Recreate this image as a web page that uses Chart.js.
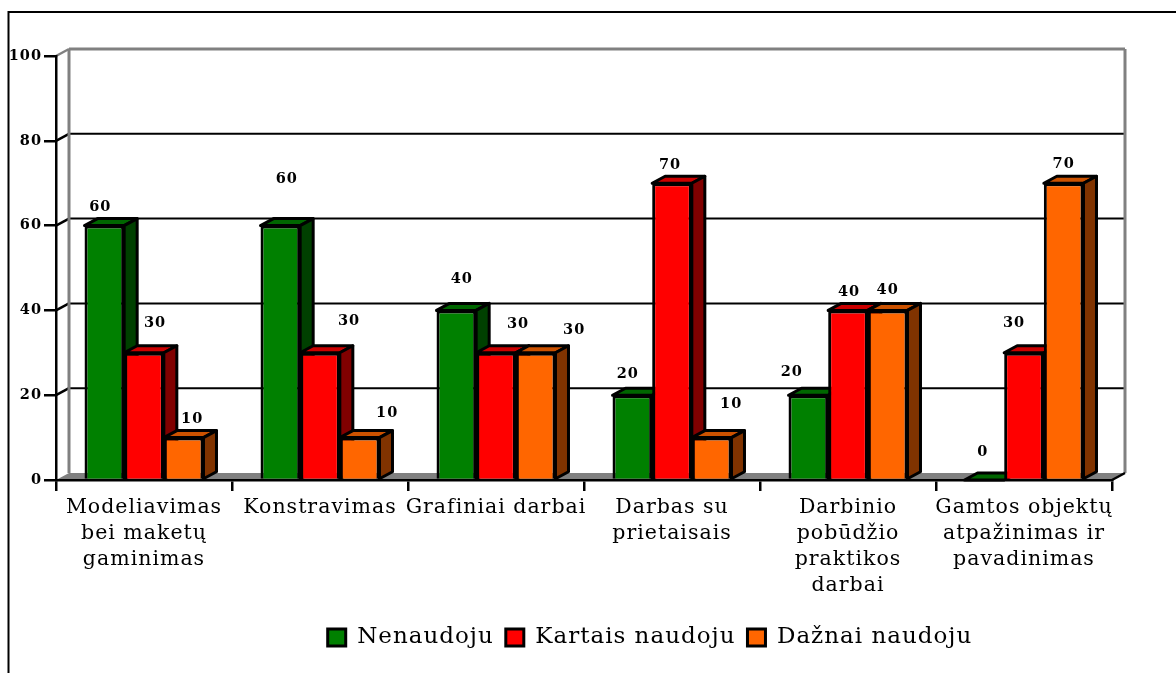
<!DOCTYPE html>
<html>
<head>
<meta charset="utf-8">
<style>html,body{margin:0;padding:0;background:#fff}canvas{display:block}</style>
<script src="https://cdn.jsdelivr.net/npm/chart.js@4"></script>
</head>
<body>
<canvas id="c" width="1176" height="673"></canvas>
<script>
const categories = [
  ['Modeliavimas','bei maketų','gaminimas'],
  'Konstravimas',
  'Grafiniai darbai',
  ['Darbas su','prietaisais'],
  ['Darbinio','pobūdžio','praktikos','darbai'],
  ['Gamtos objektų','atpažinimas ir','pavadinimas']
];
const seriesNames = ['Nenaudoju','Kartais naudoju','Dažnai naudoju'];
const nenaudoju = [60,60,40,20,20,0];
const kartais   = [30,30,30,70,40,30];
const daznai    = [10,10,30,10,40,70];
const yTicks = [0,20,40,60,80,100];
const frontColors = ['#008000','#ff0000','#ff6600'];
const topColors   = ['#006600','#cc0000','#cc5200'];
const sideColors  = ['#004000','#800000','#803300'];
// hand placement of each value label relative to its bar top (label positions differ per bar in the source)
const labelShiftX = [[-4,6.5,5.5,-4.5,-16.5,-1.5],[11,29,22,-2,1,-10],[8.5,27.5,38.5,19.5,0,0]];
const labelShiftY = [[-18.6,-46.6,-31,-21,-23,-28],[-30,-32,-29,-18,-18,-30],[-18.6,-24.6,-23,-33.6,-20,-19]];
const DX = 13, DY = -7;
const SERIF = '"DejaVu Serif"';
const SPACING = '1px';

const depthPlugin = {
  id:'depth',
  beforeUpdate(chart){ chart.ctx.letterSpacing = SPACING; },
  afterLayout(chart){ const l = chart.legend; if(l){ l.left += 94; l.right += 94; } },
  beforeDraw(chart){
    const ctx = chart.ctx, a = chart.chartArea, y = chart.scales.y;
    ctx.letterSpacing = SPACING;
    ctx.save();
    // page frame
    ctx.strokeStyle = '#000'; ctx.lineWidth = 2;
    ctx.beginPath(); ctx.moveTo(1176,12); ctx.lineTo(8.5,12); ctx.lineTo(8.5,673); ctx.stroke();
    // floor
    ctx.fillStyle = '#808080';
    ctx.beginPath();
    ctx.moveTo(a.left,a.bottom); ctx.lineTo(a.left+DX,a.bottom+DY);
    ctx.lineTo(a.right+DX,a.bottom+DY); ctx.lineTo(a.right,a.bottom); ctx.closePath(); ctx.fill();
    // grid on back wall
    yTicks.forEach(v=>{
      if(v===0) return;
      const p = y.getPixelForValue(v);
      const col = v===100 ? '#808080' : '#000';
      ctx.strokeStyle = col; ctx.lineWidth = v===100 ? 3 : 2;
      ctx.beginPath(); ctx.moveTo(a.left+DX,p+DY); ctx.lineTo(a.right+DX,p+DY); ctx.stroke();
      ctx.lineWidth = 2.5;
      ctx.strokeStyle = v===100 ? '#808080' : '#000';
      ctx.beginPath(); ctx.moveTo(a.left,p); ctx.lineTo(a.left+DX,p+DY); ctx.stroke();
    });
    // walls
    ctx.strokeStyle = '#808080'; ctx.lineWidth = 3;
    const t = y.getPixelForValue(100)+DY, b = a.bottom+DY;
    ctx.beginPath(); ctx.moveTo(a.left+DX,t); ctx.lineTo(a.left+DX,b); ctx.stroke();
    ctx.beginPath(); ctx.moveTo(a.right+DX,t); ctx.lineTo(a.right+DX,b); ctx.stroke();
    ctx.strokeStyle = '#000'; ctx.lineWidth = 2.5;
    ctx.beginPath(); ctx.moveTo(a.right,a.bottom); ctx.lineTo(a.right+DX,a.bottom+DY); ctx.stroke();
    ctx.restore();
  },
  beforeDatasetsDraw(chart){
    const ctx = chart.ctx;
    // series paint left to right so each bar's front covers its left neighbour's side
    chart.data.datasets.forEach((ds,i)=>{
      const meta = chart.getDatasetMeta(i);
      ctx.save();
      ctx.strokeStyle = '#000'; ctx.lineWidth = 3; ctx.lineJoin = 'round';
      meta.data.forEach(bar=>{
        const {x,y,base,width} = bar.getProps(['x','y','base','width'],true);
        const l = x-width/2, r = x+width/2;
        ctx.fillStyle = topColors[i];
        ctx.beginPath(); ctx.moveTo(l,y); ctx.lineTo(l+DX,y+DY); ctx.lineTo(r+DX,y+DY); ctx.lineTo(r,y); ctx.closePath(); ctx.fill(); ctx.stroke();
        if(base-y > 0.5){
          ctx.fillStyle = sideColors[i];
          ctx.beginPath(); ctx.moveTo(r,y); ctx.lineTo(r+DX,y+DY); ctx.lineTo(r+DX,base+DY); ctx.lineTo(r,base); ctx.closePath(); ctx.fill(); ctx.stroke();
        }
      });
      ctx.restore();
      meta.controller.draw();
    });
    return false;
  },
  afterDraw(chart){
    const ctx = chart.ctx;
    ctx.save();
    ctx.fillStyle = '#000'; ctx.textAlign = 'center'; ctx.textBaseline = 'middle';
    ctx.font = 'bold 14.5px '+SERIF;
    chart.data.datasets.forEach((ds,i)=>{
      chart.getDatasetMeta(i).data.forEach((bar,j)=>{
        const p = bar.getProps(['x','y'],true);
        ctx.fillText(String(ds.data[j]), p.x+labelShiftX[i][j], p.y+labelShiftY[i][j]);
      });
    });
    ctx.restore();
  }
};

new Chart(document.getElementById('c'),{
  type:'bar',
  data:{
    labels:categories,
    datasets:[nenaudoju,kartais,daznai].map((d,i)=>({
      label:seriesNames[i], data:d,
      backgroundColor:frontColors[i], borderColor:'#000', borderWidth:3,
      barPercentage:1, categoryPercentage:0.676
    }))
  },
  plugins:[depthPlugin],
  options:{
    responsive:false, animation:false,
    layout:{padding:{top:56,right:64,left:0,bottom:14}},
    plugins:{
      tooltip:{enabled:false},
      legend:{
        position:'bottom',
        labels:{boxWidth:18,boxHeight:17,padding:12,color:'#000',font:{family:SERIF,size:23}}
      }
    },
    scales:{
      x:{
        afterFit(s){ s.height = 134; },
        grid:{drawOnChartArea:false,color:'#000',lineWidth:2.5,tickLength:11,offset:true},
        border:{color:'#000',width:2.5},
        ticks:{color:'#000',font:{family:SERIF,size:20.5,lineHeight:1.27},maxRotation:0,minRotation:0,autoSkip:false,padding:4}
      },
      y:{
        min:0,max:100,
        afterFit(s){ s.width = 56; },
        grid:{drawOnChartArea:false,color:'#000',lineWidth:2.5,tickLength:12},
        border:{color:'#000',width:2.5},
        afterBuildTicks(s){ s.ticks = yTicks.map(v=>({value:v})); },
        ticks:{color:'#000',font:{family:SERIF,size:14.5,weight:'bold'},padding:2}
      }
    }
  }
});
</script>
</body>
</html>
